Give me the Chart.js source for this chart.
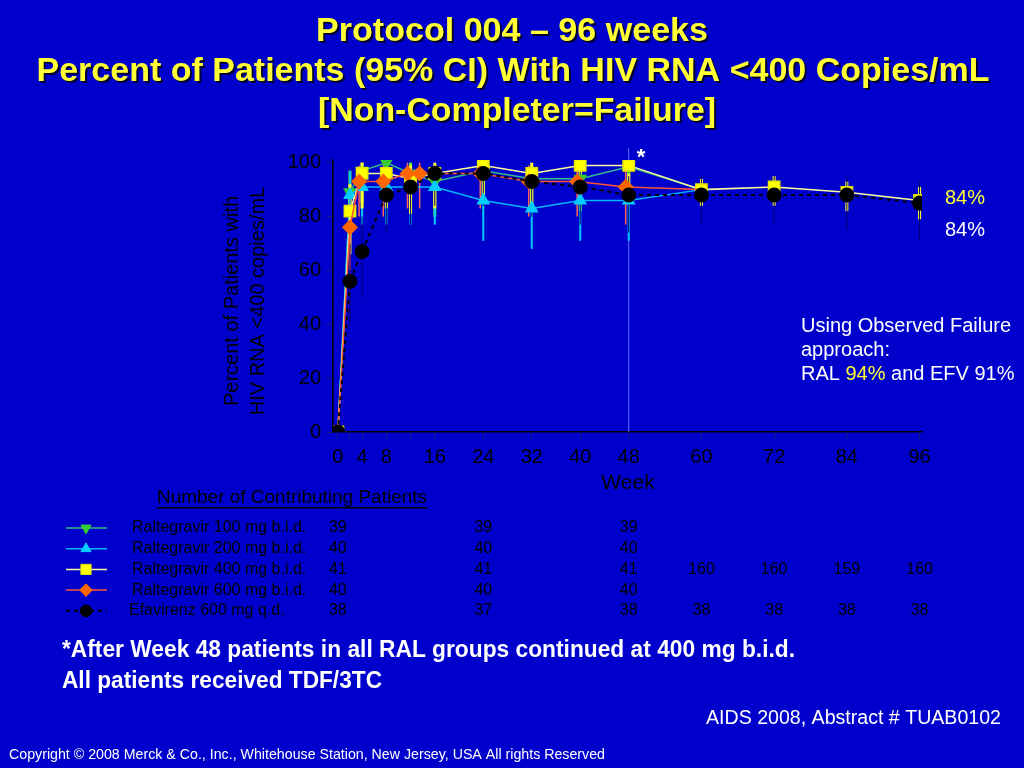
<!DOCTYPE html>
<html>
<head>
<meta charset="utf-8">
<script src="https://cdn.jsdelivr.net/npm/chart.js@4.4.1/dist/chart.umd.min.js"></script>
<style>
  html, body { margin: 0; padding: 0; background: #0000cc; }
  canvas { display: block; }
</style>
</head>
<body>
<canvas id="grafico" width="1024" height="768"></canvas>
<script>
// tick values
const xTicks = [0, 2, 4, 8, 12, 16, 24, 32, 40, 48, 60, 72, 84, 96];
const xTickLabels = { 0: '0', 4: '4', 8: '8', 16: '16', 24: '24', 32: '32', 40: '40', 48: '48', 60: '60', 72: '72', 84: '84', 96: '96' };
const yTicks = [0, 20, 40, 60, 80, 100];

// Raltegravir 100 mg (green)
const ral100Weeks = [0, 2, 4, 8, 12, 16, 24, 32, 40, 48, 60];
const ral100 = [0, 89, 97, 100, 96, 93, 97, 94, 94, 98.5, 90];
const ral100Lo = [null, 73, 85, 88, 86, 80, 88, 82, 82, 88, null];
const ral100Hi = [null, 97, 100, 100, 100, 99, 100, 99, 99, 100, null];

// Raltegravir 200 mg (cyan)
const ral200Weeks = [0, 2, 4, 8, 12, 16, 24, 32, 40, 48, 60];
const ral200 = [0, 88, 91, 91, 91, 91, 86, 83, 86, 86, 90];
const ral200Lo = [null, 72, 77, 77, 77, 77, 71, 68, 71, 71, null];
const ral200Hi = [null, 97, 97, 97, 97, 97, 94, 92, 94, 94, null];

// Raltegravir 400 mg (yellow)
const ral400Weeks = [0, 2, 4, 8, 12, 16, 24, 32, 40, 48, 60, 72, 84, 96];
const ral400 = [0, 82, 96, 96, 94, 96, 99, 96, 99, 99, 90, 91, 89, 86];
const ral400Lo = [null, 66, 83, 83, 81, 83, 87, 83, 87, 87, 84, 84, 82, 79];
const ral400Hi = [null, 92, 100, 100, 99, 100, 100, 100, 100, 100, 94, 95, 93, 91];

// Raltegravir 600 mg (orange)
const ral600Weeks = [0, 2, 3.5, 7.5, 11.5, 13.5, 23.5, 31.5, 39.5, 47.5, 60];
const ral600 = [0, 76, 93, 93, 96, 96, 96, 93, 93, 91, 90];
const ral600Lo = [null, 60, 80, 80, 83, 83, 83, 80, 80, 77, null];
const ral600Hi = [null, 87, 99, 99, 100, 100, 100, 99, 99, 97, null];

// Efavirenz 600 mg (black)
const efvWeeks = [0, 2, 4, 8, 12, 16, 24, 32, 40, 48, 60, 72, 84, 96];
const efv = [0, 56, 67, 88, 91, 96, 96, 93, 91, 88, 88, 88, 88, 85];
const efvLo = [null, 40, 50, 74, 77, 84, 84, 80, 77, 74, 77, 77, 75, 71];
const efvHi = [null, 70, 80, 96, 97, 99, 99, 98, 97, 95, 95, 95, 95, 93];

// contributing patients table
const tableWeeks = [0, 24, 48, 60, 72, 84, 96];
const tableNames = ['Raltegravir 100 mg b.i.d.', 'Raltegravir 200 mg b.i.d.', 'Raltegravir 400 mg b.i.d.', 'Raltegravir 600 mg b.i.d.', 'Efavirenz 600 mg q.d.'];
const nRal100 = [39, 39, 39, null, null, null, null];
const nRal200 = [40, 40, 40, null, null, null, null];
const nRal400 = [41, 41, 41, 160, 160, 159, 160];
const nRal600 = [40, 40, 40, null, null, null, null];
const nEfv = [38, 37, 38, 38, 38, 38, 38];

const FONT = '"Liberation Sans", Arial, sans-serif';

function pontos(weeks, vals) {
    return weeks.map((w, i) => ({ x: w, y: vals[i] }));
}

// the last point (week 60) of the separate RAL groups is only a line end
function semUltimo(weeks, r) {
    return weeks.map((w) => (w === 60 ? 0 : r));
}

const datasets = [
    {
        label: 'Efavirenz 600 mg q.d.',
        data: pontos(efvWeeks, efv),
        errLo: efvLo, errHi: efvHi, errColor: '#00006e', errWidth: 1,
        borderColor: '#000000', borderWidth: 2, borderDash: [4, 4],
        pointStyle: 'circle', pointRadius: 6.5,
        pointBackgroundColor: '#000000', pointBorderColor: '#000000'
    },
    {
        label: 'Raltegravir 600 mg b.i.d.',
        data: pontos(ral600Weeks, ral600),
        errLo: ral600Lo, errHi: ral600Hi, errColor: '#ff6655', errWidth: 1.5,
        borderColor: '#ff5533', borderWidth: 1.5,
        pointStyle: 'rectRot', pointRadius: semUltimo(ral600Weeks, 7),
        pointBackgroundColor: '#ff6600', pointBorderColor: '#ff6600'
    },
    {
        label: 'Raltegravir 400 mg b.i.d.',
        data: pontos(ral400Weeks, ral400),
        errLo: ral400Lo, errHi: ral400Hi, errColor: '#ffff33', errWidth: 3,
        borderColor: '#ffff99', borderWidth: 1.5,
        pointStyle: 'rect', pointRadius: 8,
        pointBackgroundColor: '#ffff00', pointBorderColor: '#e6e600'
    },
    {
        label: 'Raltegravir 200 mg b.i.d.',
        data: pontos(ral200Weeks, ral200),
        errLo: ral200Lo, errHi: ral200Hi, errColor: '#00ccff', errWidth: 2,
        borderColor: '#00b8ff', borderWidth: 1.5,
        pointStyle: 'triangle', pointRadius: semUltimo(ral200Weeks, 6.5),
        pointBackgroundColor: '#00ccff', pointBorderColor: '#00ccff'
    },
    {
        label: 'Raltegravir 100 mg b.i.d.',
        data: pontos(ral100Weeks, ral100),
        errLo: ral100Lo, errHi: ral100Hi, errColor: '#66ee33', errWidth: 3,
        borderColor: '#33bb88', borderWidth: 1.5,
        pointStyle: 'triangle', pointRotation: 180, pointRadius: semUltimo(ral100Weeks, 6.5),
        pointBackgroundColor: '#33cc33', pointBorderColor: '#33cc33'
    }
];
datasets.forEach(d => { d.showLine = true; d.tension = 0; d.fill = false; d.pointHoverRadius = d.pointRadius; });

// legend rows, top to bottom, with the dataset index they mirror
const legendRows = [4, 3, 2, 1, 0];
const tableCounts = [nRal100, nRal200, nRal400, nRal600, nEfv];

function textoAjustado(ctx, text, x, y, width, align) {
    const w = ctx.measureText(text).width;
    ctx.save();
    ctx.translate(x, y);
    ctx.scale(width / w, 1);
    ctx.textAlign = align;
    ctx.fillText(text, 0, 0);
    ctx.restore();
}

const fundo = {
    id: 'fundo',
    beforeDraw(chart) {
        const ctx = chart.ctx;
        ctx.save();
        ctx.fillStyle = '#0000cc';
        ctx.fillRect(0, 0, chart.width, chart.height);
        ctx.restore();
    }
};

const barrasErro = {
    id: 'barrasErro',
    beforeDatasetsDraw(chart) {
        const ctx = chart.ctx;
        const xs = chart.scales.x, ys = chart.scales.y;
        const area = chart.chartArea;
        ctx.save();
        // line at week 48
        ctx.strokeStyle = '#5c6cff';
        ctx.lineWidth = 1;
        ctx.beginPath();
        ctx.moveTo(xs.getPixelForValue(48), area.top - 12);
        ctx.lineTo(xs.getPixelForValue(48), area.bottom);
        ctx.stroke();
        for (let di = chart.data.datasets.length - 1; di >= 0; di--) {
            const ds = chart.data.datasets[di];
            ctx.strokeStyle = ds.errColor;
            ctx.lineWidth = ds.errWidth;
            ds.data.forEach((p, i) => {
                if (ds.errLo[i] == null) return;
                const px = xs.getPixelForValue(p.x);
                ctx.beginPath();
                ctx.moveTo(px, ys.getPixelForValue(ds.errLo[i]));
                ctx.lineTo(px, ys.getPixelForValue(ds.errHi[i]));
                ctx.stroke();
            });
        }
        ctx.restore();
    }
};

const textos = {
    id: 'textos',
    afterDraw(chart) {
        const ctx = chart.ctx;
        const xs = chart.scales.x;
        ctx.save();
        ctx.textBaseline = 'middle';

        // title
        ctx.font = 'bold 33px ' + FONT;
        ctx.shadowColor = '#000033';
        ctx.shadowOffsetX = 2;
        ctx.shadowOffsetY = 2;
        ctx.fillStyle = '#ffff33';
        textoAjustado(ctx, 'Protocol 004 \u2013 96 weeks', 512, 32, 392, 'center');
        textoAjustado(ctx, 'Percent of Patients (95% CI) With HIV RNA <400 Copies/mL', 513, 72, 953, 'center');
        textoAjustado(ctx, '[Non-Completer=Failure]', 517, 112, 398, 'center');
        ctx.shadowColor = 'transparent';

        // axis titles
        ctx.fillStyle = '#000000';
        ctx.font = '20px ' + FONT;
        ctx.save();
        ctx.translate(232, 301);
        ctx.rotate(-Math.PI / 2);
        ctx.textAlign = 'center';
        ctx.fillText('Percent of Patients with', 0, 0);
        ctx.fillText('HIV RNA <400 copies/mL', 0, 26);
        ctx.restore();
        ctx.font = '21px ' + FONT;
        ctx.textAlign = 'center';
        ctx.fillText('Week', 628, 483);

        // asterisk
        ctx.fillStyle = '#ffffff';
        ctx.font = 'bold 22px ' + FONT;
        ctx.fillText('*', 641, 158);

        // right side notes
        ctx.textAlign = 'left';
        ctx.font = '20px ' + FONT;
        ctx.fillStyle = '#ffff33';
        ctx.fillText('84%', 945, 198);
        ctx.fillStyle = '#ffffff';
        ctx.fillText('84%', 945, 230);
        ctx.fillText('Using Observed Failure', 801, 326);
        ctx.fillText('approach:', 801, 350);
        ctx.fillText('RAL ', 801, 374);
        let w = ctx.measureText('RAL ').width;
        ctx.fillStyle = '#ffff33';
        ctx.fillText('94%', 801 + w, 374);
        w += ctx.measureText('94%').width;
        ctx.fillStyle = '#ffffff';
        ctx.fillText(' and EFV 91%', 801 + w, 374);

        // table of contributing patients
        ctx.fillStyle = '#000000';
        ctx.font = '19px ' + FONT;
        textoAjustado(ctx, 'Number of Contributing Patients', 157, 498, 270, 'left');
        ctx.fillRect(157, 507, 270, 1.5);

        legendRows.forEach((di, r) => {
            const ds = chart.data.datasets[di];
            const y = 528 + r * 20.7;
            ctx.save();
            ctx.strokeStyle = ds.borderColor;
            ctx.lineWidth = ds.borderWidth;
            if (ds.borderDash) ctx.setLineDash(ds.borderDash);
            ctx.beginPath();
            ctx.moveTo(66, y);
            ctx.lineTo(107, y);
            ctx.stroke();
            ctx.restore();
            ctx.fillStyle = ds.pointBackgroundColor;
            ctx.strokeStyle = ds.pointBorderColor;
            ctx.lineWidth = 1;
            const rad = Array.isArray(ds.pointRadius) ? ds.pointRadius[1] : ds.pointRadius;
            Chart.helpers.drawPoint(ctx, { pointStyle: ds.pointStyle, rotation: ds.pointRotation || 0, radius: rad * 0.9, borderWidth: 1 }, 86, y);

            ctx.fillStyle = '#000000';
            ctx.font = '16px ' + FONT;
            ctx.textAlign = 'left';
            ctx.fillText(tableNames[r], di === 0 ? 129 : 132, y);
            ctx.textAlign = 'center';
            tableCounts[r].forEach((n, k) => {
                if (n == null) return;
                ctx.fillText(String(n), xs.getPixelForValue(tableWeeks[k]), y);
            });
        });

        // footnotes
        ctx.fillStyle = '#ffffff';
        ctx.font = 'bold 24px ' + FONT;
        textoAjustado(ctx, '*After Week 48 patients in all RAL groups continued at 400 mg b.i.d.', 62, 650, 733, 'left');
        textoAjustado(ctx, 'All patients received TDF/3TC', 62, 681, 320, 'left');
        ctx.font = '20px ' + FONT;
        textoAjustado(ctx, 'AIDS 2008, Abstract # TUAB0102', 1001, 718, 295, 'right');
        ctx.font = '15px ' + FONT;
        textoAjustado(ctx, 'Copyright \u00a9 2008 Merck & Co., Inc., Whitehouse Station, New Jersey, USA All rights Reserved', 9, 755, 596, 'left');
        ctx.restore();
    }
};

const ctx = document.getElementById('grafico').getContext('2d');
new Chart(ctx, {
    type: 'scatter',
    data: { datasets: datasets },
    options: {
        responsive: false,
        animation: false,
        events: [],
        layout: { padding: { left: 0, top: 160, right: 102, bottom: 0 } },
        plugins: {
            legend: { display: false },
            tooltip: { enabled: false },
            title: { display: false }
        },
        scales: {
            x: {
                type: 'linear',
                min: -0.8,
                max: 96.4,
                afterFit: (scale) => { scale.height = 336; },
                afterBuildTicks: (scale) => { scale.ticks = xTicks.map(v => ({ value: v })); },
                ticks: {
                    autoSkip: false,
                    maxRotation: 0,
                    padding: 6,
                    color: '#000000',
                    font: { family: FONT, size: 20 },
                    callback: (v) => (xTickLabels[v] !== undefined ? xTickLabels[v] : '')
                },
                grid: { drawOnChartArea: false, drawTicks: true, tickLength: 7, color: '#1a1a80' },
                border: { display: true, color: '#000000', width: 1.5 }
            },
            y: {
                min: 0,
                max: 101,
                afterFit: (scale) => { scale.width = 333; },
                afterBuildTicks: (scale) => { scale.ticks = yTicks.map(v => ({ value: v })); },
                ticks: {
                    padding: 6,
                    color: '#000000',
                    font: { family: FONT, size: 20 }
                },
                grid: { drawOnChartArea: false, drawTicks: true, tickLength: 6, color: '#1a1a80' },
                border: { display: true, color: '#000000', width: 1.5 }
            }
        }
    },
    plugins: [fundo, barrasErro, textos]
});
</script>
</body>
</html>
